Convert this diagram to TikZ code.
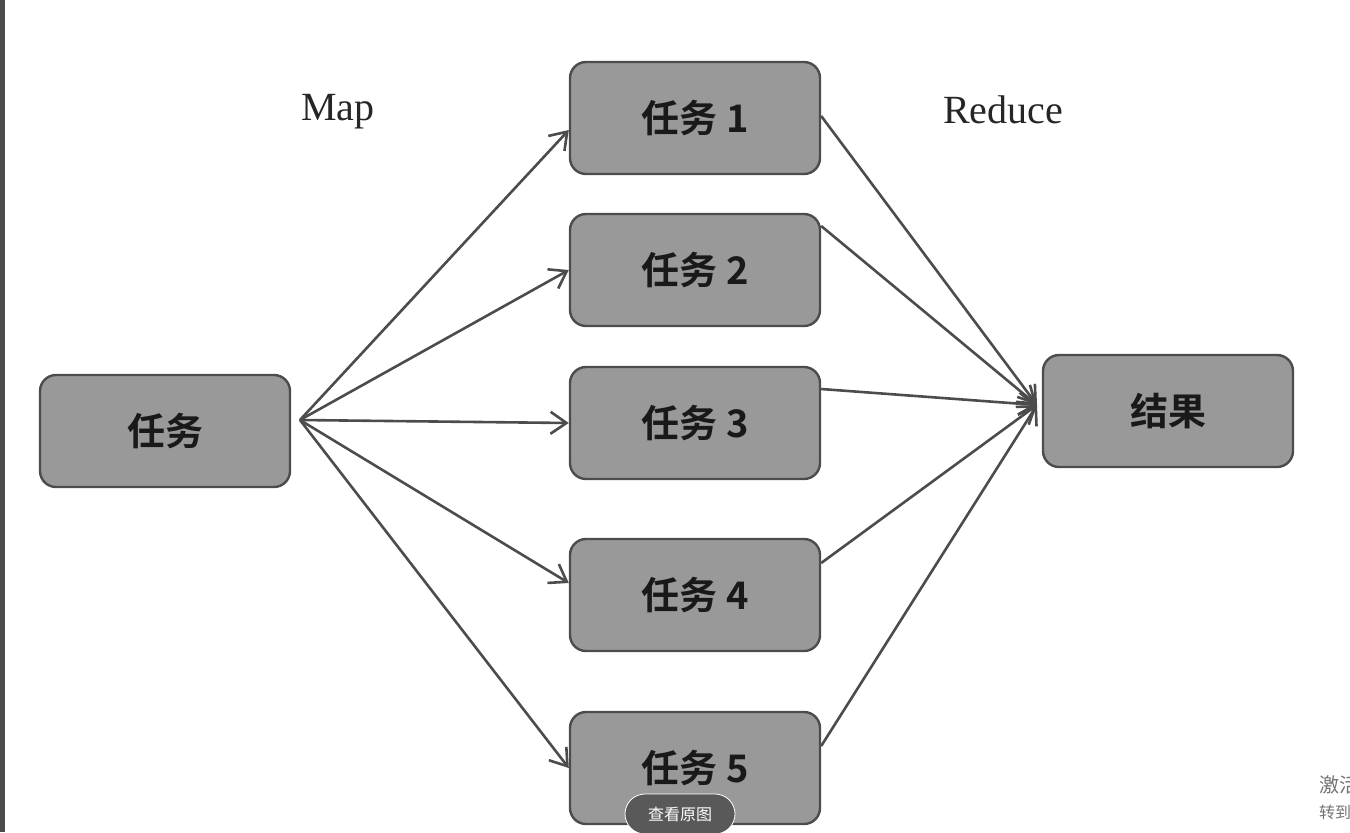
\documentclass[tikz,border=0pt]{standalone}
\usepackage{fontspec}
\setmainfont{Liberation Serif}
\newfontfamily\cjk{Noto Sans CJK SC}
\newfontfamily\cjkb{Noto Sans CJK SC Bold}
\usetikzlibrary{arrows.meta}
\tikzset{
 box/.style={draw=black!70,line width=1.2pt,fill=black!40,rounded corners=8pt,minimum width=125pt,minimum height=56pt,font=\cjkb\fontsize{19pt}{19pt}\selectfont,text=black!90},
 arr/.style={draw=black!70,line width=1.3pt,-{Straight Barb[length=8pt,width=11pt]}},
 lbl/.style={font=\fontsize{20pt}{20pt}\selectfont,text=black!85}
}
\begin{document}
\begin{tikzpicture}[x=0.5pt,y=-0.5pt]
\useasboundingbox (0,0) rectangle (1350,832);
\fill[black!70] (0,0) rectangle (5,832);
\node[box] (t) at (165,431) {任务};
\node[box] (a1) at (695,118) {任务 1};
\node[box] (a2) at (695,270) {任务 2};
\node[box] (a3) at (695,423) {任务 3};
\node[box] (a4) at (695,595) {任务 4};
\node[box] (a5) at (695,768) {任务 5};
\node[box] (r) at (1168,411) {结果};
\node[lbl] (map) at (338,112) {Map};
\node[lbl] (red) at (1003,110) {Reduce};
\coordinate (s) at (300,420);
\coordinate (e) at (1037,405);
\draw[arr] (s) -- ([yshift=-6pt]a1.west);
\draw[arr] (s) -- (a2.west);
\draw[arr] (s) -- (a3.west);
\draw[arr] (s) -- ([yshift=6pt]a4.west);
\draw[arr] (s) -- (a5.west);
\draw[arr] ([yshift=1pt]a1.east) -- (e);
\draw[arr] ([yshift=22pt]a2.east) -- (e);
\draw[arr] ([yshift=17pt]a3.east) -- (e);
\draw[arr] ([yshift=16pt]a4.east) -- (e);
\draw[arr] ([yshift=11pt]a5.east) -- (e);
\node[fill=black!65,draw=white,rounded corners=10pt,text=white,font=\cjk\fontsize{8pt}{8pt}\selectfont,minimum width=55pt,minimum height=20pt] (btn) at (680,814) {查看原图};
\begin{scope}
\clip (1300,760) rectangle (1350,832);
\node[anchor=west,text=black!55,font=\cjk\fontsize{10pt}{10pt}\selectfont] (w1) at (1312,785) {激活};
\node[anchor=west,text=black!55,font=\cjk\fontsize{8pt}{8pt}\selectfont] (w2) at (1312,812) {转到};
\end{scope}
\end{tikzpicture}
\end{document}
